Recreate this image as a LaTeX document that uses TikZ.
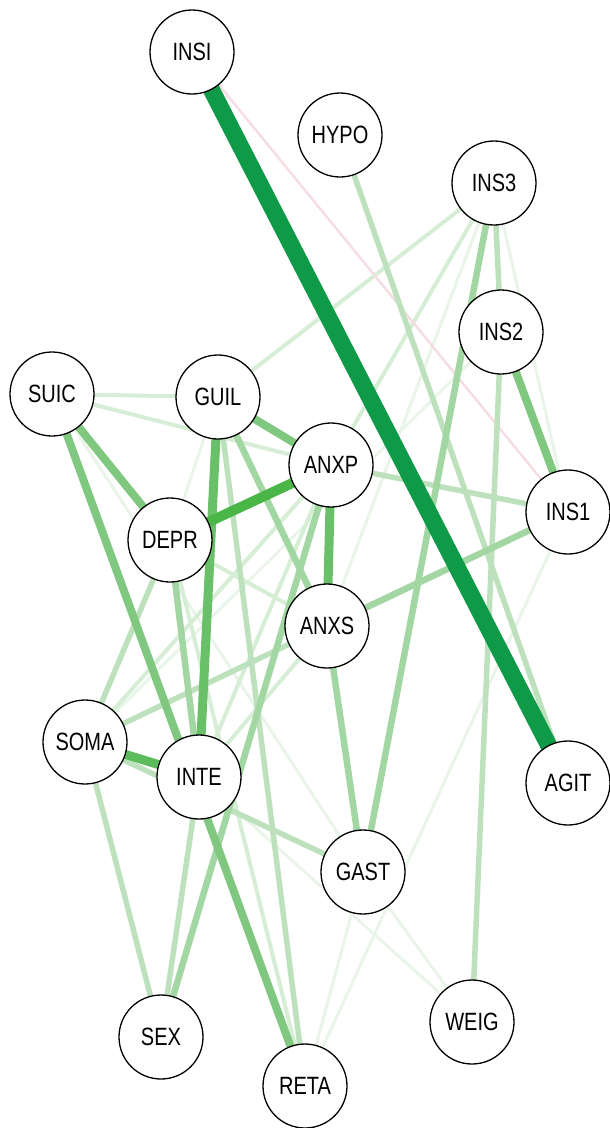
\documentclass[tikz,border=0pt]{standalone}
\usepackage{fontspec}
\setmainfont{Liberation Sans}[FakeStretch=0.8]
\usetikzlibrary{backgrounds}
\definecolor{cA}{HTML}{0F9A48}
\definecolor{cB}{HTML}{4BB648}
\definecolor{cC}{HTML}{5CBC5C}
\definecolor{cD}{HTML}{6ABF69}
\definecolor{cE}{HTML}{80C880}
\definecolor{cF}{HTML}{A2D6A2}
\definecolor{cG}{HTML}{BDE1BD}
\definecolor{cH}{HTML}{D6EDD6}
\definecolor{cI}{HTML}{E8F5E8}
\definecolor{cNeg}{HTML}{F5DDE1}
\tikzset{
  var/.style={circle, draw=black, line width=1.3pt, fill=white, minimum size=84pt, inner sep=0pt, font=\fontsize{25}{25}\selectfont},
  eA/.style={draw=cA, line width=17pt},
  eB/.style={draw=cB, line width=10pt},
  eC/.style={draw=cC, line width=9pt},
  eD/.style={draw=cD, line width=9pt},
  eE/.style={draw=cE, line width=8pt},
  eF/.style={draw=cF, line width=6.5pt},
  eG/.style={draw=cG, line width=5.5pt},
  eH/.style={draw=cH, line width=4pt},
  eI/.style={draw=cI, line width=3pt},
  eNeg/.style={draw=cNeg, line width=2.5pt}
}
\begin{document}
\begin{tikzpicture}[x=1pt, y=-1pt]
\useasboundingbox (0,0) rectangle (610,1128);
\node[var] (INSI) at (192,52) {INSI};
\node[var] (HYPO) at (340,135) {HYPO};
\node[var] (INS3) at (494,183) {INS3};
\node[var] (INS2) at (501,332) {INS2};
\node[var] (SUIC) at (52,394) {SUIC};
\node[var] (GUIL) at (218,397) {GUIL};
\node[var] (ANXP) at (331,465) {ANXP};
\node[var] (INS1) at (568,512) {INS1};
\node[var] (DEPR) at (170,540) {DEPR};
\node[var] (ANXS) at (327,626) {ANXS};
\node[var] (SOMA) at (85,742) {SOMA};
\node[var] (INTE) at (199,777) {INTE};
\node[var] (AGIT) at (568,783) {AGIT};
\node[var] (GAST) at (363,872) {GAST};
\node[var] (WEIG) at (472,1022) {WEIG};
\node[var] (SEX) at (161,1037) {SEX};
\node[var] (RETA) at (305,1086) {RETA};
\begin{scope}[on background layer]
% very faint
\draw[eI] (SUIC.center) -- (GAST.center);
\draw[eI] (INS3.center) -- (ANXS.center);
\draw[eI] (INS1.center) -- (RETA.center);
\draw[eI] (GAST.center) -- (WEIG.center);
\draw[eI] (GAST.center) -- (RETA.center);
\draw[eI] (INTE.center) -- (WEIG.center);
\draw[eI] (INS2.center) -- (SOMA.center);
\draw[eI] (GUIL.center) -- (DEPR.center);
\draw[eI] (INS3.center) -- (INS1.center);
% faint
\draw[eH] (SUIC.center) -- (GUIL.center);
\draw[eH] (SUIC.center) -- (ANXP.center);
\draw[eH] (INS3.center) -- (ANXP.center);
\draw[eH] (ANXP.center) -- (INTE.center);
\draw[eH] (ANXS.center) -- (INTE.center);
\draw[eH] (DEPR.center) -- (ANXS.center);
\draw[eH] (DEPR.center) -- (RETA.center);
\draw[eH] (SOMA.center) -- (ANXP.center);
\draw[eH] (INS3.center) -- (GUIL.center);
% negative
\draw[eNeg] (INSI.center) -- (INS1.center);
% light
\draw[eG] (HYPO.center) -- (AGIT.center);
\draw[eG] (INS3.center) -- (INS2.center);
\draw[eG] (SOMA.center) -- (SEX.center);
\draw[eG] (INTE.center) -- (SEX.center);
\draw[eG] (SOMA.center) -- (ANXS.center);
\draw[eG] (ANXP.center) -- (INS1.center);
\draw[eG] (INS2.center) -- (WEIG.center);
\draw[eG] (DEPR.center) -- (SOMA.center);
\draw[eG] (GUIL.center) -- (RETA.center);
\draw[eG] (SOMA.center) -- (GAST.center);
% light-medium
\draw[eF] (ANXS.center) -- (INS1.center);
\draw[eF] (INS3.center) -- (GAST.center);
\draw[eF] (ANXP.center) -- (SEX.center);
\draw[eF] (GUIL.center) -- (ANXS.center);
\draw[eF] (ANXS.center) -- (GAST.center);
\draw[eF] (DEPR.center) -- (INTE.center);
% medium
\draw[eE] (SUIC.center) -- (DEPR.center);
\draw[eE] (SUIC.center) -- (RETA.center);
\draw[eE] (INS2.center) -- (INS1.center);
\draw[eE] (GUIL.center) -- (ANXP.center);
% strong
\draw[eD] (GUIL.center) -- (INTE.center);
\draw[eD] (ANXP.center) -- (ANXS.center);
\draw[eC] (SOMA.center) -- (INTE.center);
\draw[eB] (DEPR.center) -- (ANXP.center);
\draw[eA] (INSI.center) -- (AGIT.center);
\end{scope}
\end{tikzpicture}
\end{document}
